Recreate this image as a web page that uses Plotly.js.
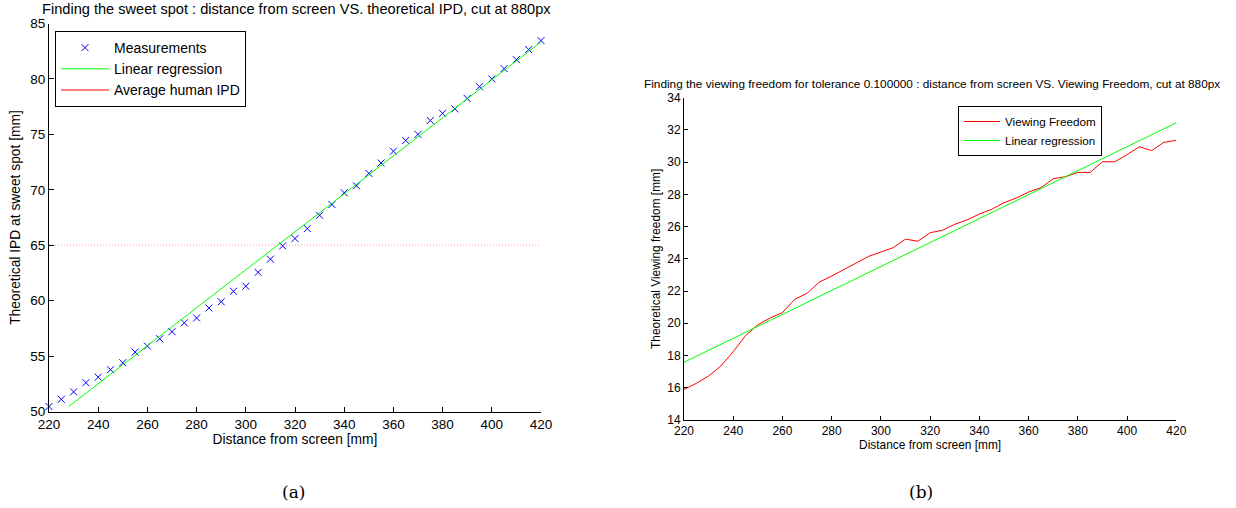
<!DOCTYPE html>
<html>
<head>
<meta charset="utf-8">
<script src="https://cdn.plot.ly/plotly-3.0.1.min.js"></script>
<style>html,body{margin:0;padding:0;background:#fff;}#chart{width:1236px;height:508px;}</style>
</head>
<body>
<div id="chart"></div>
<script>
// ---- Data: plot (a) ----
const distA = [220,225,230,235,240,245,250,255,260,265,270,275,280,285,290,295,300,305,310,315,320,325,330,335,340,345,350,355,360,365,370,375,380,385,390,395,400,405,410,415,420];
const ipdMeasured = [50.45,51.1,51.77,52.6,53.1,53.77,54.4,55.36,55.9,56.56,57.2,58.0,58.44,59.34,59.9,60.84,61.3,62.55,63.74,64.94,65.6,66.5,67.7,68.67,69.73,70.36,71.48,72.42,73.48,74.45,75.0,76.25,76.9,77.3,78.24,79.3,80.0,80.93,81.74,82.65,83.46];
const regAX = [228, 420];
const regAY = [50.45, 83.34];
const avgIpdX = [220, 420];
const avgIpdY = [65, 65];

// ---- Data: plot (b) ----
const distB = [220,225,230,235,240,245,250,255,260,265,270,275,280,285,290,295,300,305,310,315,320,325,330,335,340,345,350,355,360,365,370,375,380,385,390,395,400,405,410,415,420];
const viewFreedom = [15.9,16.27,16.73,17.35,18.24,19.23,19.91,20.33,20.66,21.49,21.86,22.56,22.93,23.35,23.76,24.15,24.42,24.69,25.22,25.09,25.62,25.77,26.14,26.41,26.78,27.07,27.48,27.77,28.14,28.41,28.97,29.09,29.36,29.36,30.02,30.02,30.46,30.95,30.71,31.23,31.35];
const regBX = [220, 420];
const regBY = [17.58, 32.44];

const titleA = "Finding the sweet spot : distance from screen VS. theoretical IPD, cut at 880px";
const titleB = "Finding the viewing freedom for tolerance 0.100000 : distance from screen VS. Viewing Freedom, cut at 880px";

const FONT = "Liberation Sans, Arial, Helvetica, sans-serif";
const W = 1236, H = 508;
const px = v => v / W;
const py = v => 1 - v / H;

const traces = [
  {x: distA, y: ipdMeasured, mode: 'markers', name: 'Measurements', xaxis: 'x', yaxis: 'y', legend: 'legend',
   cliponaxis: false,
   marker: {symbol: 'x-thin-open', size: 7, color: '#0000ff', line: {color: '#0000ff', width: 1}}},
  {x: regAX, y: regAY, mode: 'lines', name: 'Linear regression', xaxis: 'x', yaxis: 'y', legend: 'legend',
   line: {color: '#00ff00', width: 1}},
  {x: avgIpdX, y: avgIpdY, mode: 'lines', name: 'Average human IPD', xaxis: 'x', yaxis: 'y', showlegend: false,
   line: {color: '#ff9a9a', width: 1, dash: '1px,2px'}},
  {x: [null], y: [null], mode: 'lines', name: 'Average human IPD', xaxis: 'x', yaxis: 'y', legend: 'legend',
   line: {color: '#ff0000', width: 1}},
  {x: distB, y: viewFreedom, mode: 'lines', name: 'Viewing Freedom', xaxis: 'x2', yaxis: 'y2', legend: 'legend2',
   line: {color: '#ff0000', width: 1}},
  {x: regBX, y: regBY, mode: 'lines', name: 'Linear regression', xaxis: 'x2', yaxis: 'y2', legend: 'legend2',
   line: {color: '#00ff00', width: 1}}
];

const axisCommon = {
  showline: true, linecolor: '#000', linewidth: 1, mirror: false,
  ticks: 'inside', ticklen: 5, tickcolor: '#000', showgrid: false, zeroline: false,
  fixedrange: true
};

const layout = {
  width: W, height: H,
  margin: {l: 0, r: 0, t: 0, b: 0},
  paper_bgcolor: '#fff', plot_bgcolor: '#fff',
  font: {family: FONT, color: '#000'},
  showlegend: true,
  xaxis: Object.assign({}, axisCommon, {
    domain: [px(49), px(541)], range: [220, 420], dtick: 20, tick0: 220, anchor: 'y',
    tickfont: {size: 13.5, family: FONT},
    title: {text: 'Distance from screen [mm]', font: {size: 13.8, family: FONT}, standoff: 3}
  }),
  yaxis: Object.assign({}, axisCommon, {
    domain: [py(411.5), py(23.5)], range: [50, 85], dtick: 5, anchor: 'x',
    tickfont: {size: 13.5, family: FONT},
    title: {text: 'Theoretical IPD at sweet spot [mm]', font: {size: 13.8, family: FONT}, standoff: 6}
  }),
  xaxis2: Object.assign({}, axisCommon, {
    domain: [px(684), px(1176.3)], range: [220, 420], dtick: 20, tick0: 220, anchor: 'y2',
    tickfont: {size: 12, family: FONT}, ticklen: 4,
    title: {text: 'Distance from screen [mm]', font: {size: 11.9, family: FONT}, standoff: 1}
  }),
  yaxis2: Object.assign({}, axisCommon, {
    domain: [py(420), py(97.6)], range: [14, 34], dtick: 2, anchor: 'x2',
    tickfont: {size: 12, family: FONT}, ticklen: 4,
    title: {text: 'Theoretical Viewing freedom [mm]', font: {size: 11.9, family: FONT}, standoff: 4}
  }),
  legend: {
    x: px(55), y: py(31), xanchor: 'left', yanchor: 'top',
    bgcolor: '#fff', bordercolor: '#000', borderwidth: 1,
    font: {size: 14, family: FONT}, tracegroupgap: 0, itemwidth: 48
  },
  legend2: {
    x: px(958), y: py(106), xanchor: 'left', yanchor: 'top',
    bgcolor: '#fff', bordercolor: '#000', borderwidth: 1,
    font: {size: 11.7, family: FONT}, tracegroupgap: 0, itemwidth: 36
  },
  annotations: [
    {text: titleA, xref: 'paper', yref: 'paper', x: px(296.5), y: py(9), xanchor: 'center', yanchor: 'middle',
     showarrow: false, font: {size: 14.6, family: FONT}},
    {text: titleB, xref: 'paper', yref: 'paper', x: px(931.5), y: py(84), xanchor: 'center', yanchor: 'middle',
     showarrow: false, font: {size: 11.8, family: FONT}},
    {text: '(a)', xref: 'paper', yref: 'paper', x: px(293), y: py(492), xanchor: 'center', yanchor: 'middle',
     showarrow: false, font: {size: 17, family: 'DejaVu Serif, Liberation Serif, serif'}},
    {text: '(b)', xref: 'paper', yref: 'paper', x: px(921), y: py(492), xanchor: 'center', yanchor: 'middle',
     showarrow: false, font: {size: 17, family: 'DejaVu Serif, Liberation Serif, serif'}}
  ]
};

Plotly.newPlot('chart', traces, layout, {displayModeBar: false, staticPlot: true});
</script>
</body>
</html>
